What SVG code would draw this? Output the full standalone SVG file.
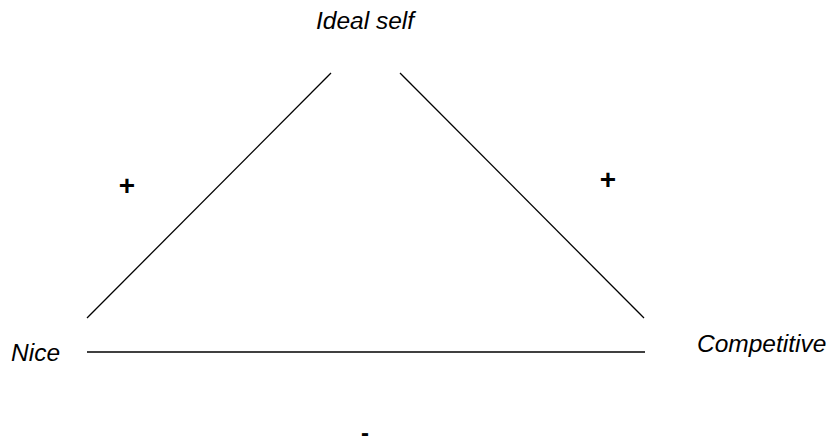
<svg xmlns="http://www.w3.org/2000/svg" width="827" height="445" viewBox="0 0 827 445">
<style>
text{font-family:"Liberation Sans",Arial,sans-serif;font-size:24px;fill:#000}
.lbl{font-style:italic;font-size:24.5px}
.plus{font-size:28px;font-weight:bold}
.minus{font-weight:bold}
line{stroke:#000;stroke-width:1.3}
</style>
<rect width="827" height="445" fill="#fff"/>
<g id="connectors">
<line x1="87" y1="318" x2="331" y2="73"/>
<line x1="400" y1="73" x2="644" y2="318"/>
<line x1="87" y1="352" x2="645" y2="352"/>
<text class="plus" x="127" y="195" text-anchor="middle">+</text>
<text class="plus" x="608" y="189" text-anchor="middle">+</text>
<text class="minus" x="365" y="441" text-anchor="middle">-</text>
</g>
<g id="ideal"><text class="lbl" x="316" y="29">Ideal self</text></g>
<g id="nice"><text class="lbl" x="11" y="361">Nice</text></g>
<g id="competitive"><text class="lbl" x="697" y="352">Competitive</text></g>
</svg>
